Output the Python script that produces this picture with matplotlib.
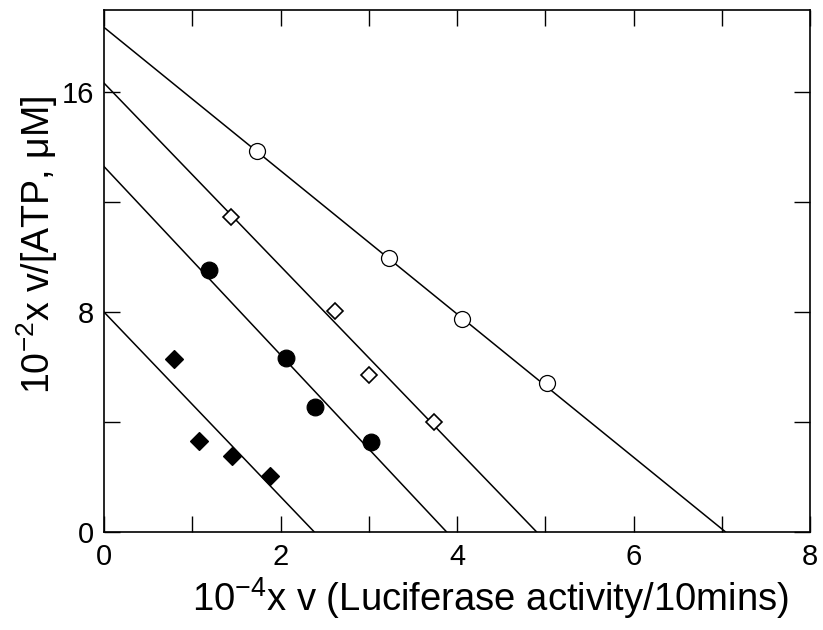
import numpy as np
import matplotlib
matplotlib.use("Agg")
import matplotlib.pyplot as plt

plt.rcParams['font.family'] = ['Liberation Sans', 'DejaVu Sans']
plt.rcParams['mathtext.fontset'] = 'custom'
plt.rcParams['mathtext.rm'] = 'Liberation Sans'
plt.rcParams['mathtext.it'] = 'Liberation Sans:italic'
plt.rcParams['mathtext.bf'] = 'Liberation Sans:bold'

# Data
open_circle_x = [1.73, 3.23, 4.06, 5.02]
open_circle_y = [13.87, 9.96, 7.74, 5.41]
open_diamond_x = [1.44, 2.62, 3.00, 3.74]
open_diamond_y = [11.46, 8.05, 5.70, 4.01]
filled_circle_x = [1.19, 2.06, 2.39, 3.03]
filled_circle_y = [9.54, 6.32, 4.56, 3.26]
filled_diamond_x = [0.79, 1.08, 1.45, 1.88]
filled_diamond_y = [6.29, 3.31, 2.77, 2.03]

# Fitted lines: (y-intercept, x-intercept)
line_open_circle = (18.37, 7.04)
line_open_diamond = (16.34, 4.90)
line_filled_circle = (13.30, 3.88)
line_filled_diamond = (8.00, 2.38)

x_ticks = [0, 1, 2, 3, 4, 5, 6, 7, 8]
x_ticklabels = ['0', '', '2', '', '4', '', '6', '', '8']
y_ticks = [0, 4, 8, 12, 16]
y_ticklabels = ['0', '', '8', '', '16']

fig = plt.figure(figsize=(8.23, 6.3), dpi=100)
ax = fig.add_axes([0.1264, 0.156, 0.8578, 0.828])

for yi, xi in [line_open_circle, line_open_diamond, line_filled_circle, line_filled_diamond]:
    ax.plot([0, xi], [yi, 0], color='black', lw=1.1, zorder=2)

ax.plot(open_circle_x, open_circle_y, 'o', ms=11.5, mfc='white', mec='black', mew=0.9, zorder=3)
ax.plot(open_diamond_x, open_diamond_y, 'D', ms=8, mfc='white', mec='black', mew=1.2, zorder=3)
ax.plot(filled_circle_x, filled_circle_y, 'o', ms=12, mfc='black', mec='black', mew=0.9, zorder=3)
ax.plot(filled_diamond_x, filled_diamond_y, 'D', ms=9, mfc='black', mec='black', mew=0.9, zorder=3)

ax.set_xlim(0, 8)
ax.set_ylim(0, 19)
ax.set_xticks(x_ticks)
ax.set_xticklabels(x_ticklabels)
ax.set_yticks(y_ticks)
ax.set_yticklabels(y_ticklabels)
ax.tick_params(direction='in', length=11.5, width=1.0, top=True, right=True,
               labelsize=21, colors='black')
ax.tick_params(axis='x', pad=8)
ax.tick_params(axis='y', pad=7)
for s in ax.spines.values():
    s.set_linewidth(1.2)

ax.set_xlabel(r'10$^{-4}$x v (Luciferase activity/10mins)', fontsize=27.5)
ax.set_ylabel(r'10$^{-2}$x v/[ATP, μM]', fontsize=27)
ax.xaxis.set_label_coords(0.548, -0.128, transform=ax.transAxes)
ax.xaxis.label.set_verticalalignment('center')
ax.yaxis.set_label_coords(-0.095, 0.55, transform=ax.transAxes)
ax.yaxis.label.set_verticalalignment('center')

fig.savefig('out.png', dpi=100)
